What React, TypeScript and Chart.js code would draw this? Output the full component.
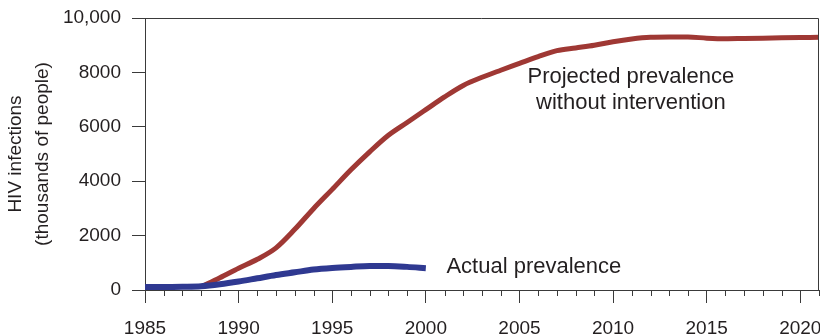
import React, { useEffect, useRef } from 'react';
import { Chart, registerables } from 'chart.js';

Chart.register(...registerables);

// ---- Data ----
const actualYears = [1985, 1986, 1987, 1988, 1989, 1990, 1991, 1992, 1993, 1994, 1995, 1996, 1997, 1998, 1999, 2000];
const actualValues = [110, 110, 120, 140, 210, 310, 430, 550, 650, 750, 810, 850, 880, 880, 850, 800];

const projectedYears = [1988, 1989, 1990, 1991, 1992, 1993, 1994, 1995, 1996, 1997, 1998, 1999, 2000, 2001, 2002, 2003, 2004, 2005, 2006, 2007, 2008, 2009, 2010, 2011, 2012, 2013, 2014, 2015, 2016, 2017, 2018, 2019, 2020, 2021];
const projectedValues = [120, 450, 800, 1130, 1550, 2230, 2990, 3700, 4420, 5080, 5690, 6160, 6630, 7100, 7520, 7820, 8080, 8330, 8580, 8800, 8900, 9000, 9130, 9230, 9290, 9300, 9300, 9260, 9240, 9250, 9260, 9270, 9280, 9290];

const yTickValues = [0, 2000, 4000, 6000, 8000, 10000];
const yTickLabels = ['0', '2000', '4000', '6000', '8000', '10,000'];
const xMajorTicks = [1985, 1990, 1995, 2000, 2005, 2010, 2015, 2020];

const yTitle = ['HIV infections', '(thousands of people)'];
const projectedLabel = ['Projected prevalence', 'without intervention'];
const actualLabel = 'Actual prevalence';

// ---- Styles ----
const FONT = '"Liberation Sans", Arial, Helvetica, sans-serif';
const AXIS_COLOR = '#3a3a3a';
const TEXT_COLOR = '#231f20';
const RED = '#9f3834';
const BLUE = '#2f3991';

const extrasPlugin = {
  id: 'extras',
  afterDraw(chart: any) {
    const { ctx, chartArea, scales } = chart;
    const { left, top, right, bottom } = chartArea;
    const x = scales.x;
    const y = scales.y;
    ctx.save();
    // top and right frame
    ctx.strokeStyle = AXIS_COLOR;
    ctx.lineWidth = 1;
    ctx.beginPath();
    ctx.moveTo(left, Math.round(top) + 0.5);
    ctx.lineTo(Math.round(right) - 0.5, Math.round(top) + 0.5);
    ctx.lineTo(Math.round(right) - 0.5, bottom);
    ctx.stroke();
    // minor ticks every year
    ctx.beginPath();
    for (let yr = Math.ceil(x.min); yr <= x.max; yr++) {
      if (xMajorTicks.includes(yr)) continue;
      const px = Math.round(x.getPixelForValue(yr)) + 0.5;
      ctx.moveTo(px, bottom);
      ctx.lineTo(px, bottom + 6);
    }
    ctx.stroke();
    // annotations
    ctx.fillStyle = TEXT_COLOR;
    ctx.font = `22px ${FONT}`;
    ctx.textBaseline = 'middle';
    ctx.textAlign = 'center';
    ctx.fillText(projectedLabel[0], x.getPixelForValue(2010.95), y.getPixelForValue(7820));
    ctx.fillText(projectedLabel[1], x.getPixelForValue(2010.95), y.getPixelForValue(6860));
    ctx.textAlign = 'left';
    ctx.fillText(actualLabel, x.getPixelForValue(2001.1), y.getPixelForValue(860));
    ctx.restore();
  },
};

export default function App() {
  const ref = useRef<HTMLCanvasElement | null>(null);

  useEffect(() => {
    if (!ref.current) return;
    const chart = new Chart(ref.current, {
      type: 'line',
      data: {
        datasets: [
          {
            label: 'Actual prevalence',
            data: actualYears.map((yr, i) => ({ x: yr, y: actualValues[i] })),
            borderColor: BLUE,
            borderWidth: 6,
            pointRadius: 0,
            cubicInterpolationMode: 'monotone',
            borderCapStyle: 'butt',
            fill: false,
          },
          {
            label: 'Projected prevalence without intervention',
            data: projectedYears.map((yr, i) => ({ x: yr, y: projectedValues[i] })),
            borderColor: RED,
            borderWidth: 5,
            pointRadius: 0,
            cubicInterpolationMode: 'monotone',
            fill: false,
          },
        ],
      },
      options: {
        animation: false,
        responsive: false,
        layout: { padding: { left: 0, right: 1, top: 18, bottom: 0 } },
        plugins: {
          legend: { display: false },
          tooltip: { enabled: false },
        },
        scales: {
          x: {
            type: 'linear',
            min: 1985,
            max: 2021,
            afterFit: (s: any) => {
              s.height = 45;
              s.paddingLeft = 0;
              s.paddingRight = 0;
            },
            ticks: {
              stepSize: 1,
              autoSkip: false,
              maxRotation: 0,
              padding: 14,
              color: TEXT_COLOR,
              font: { family: FONT, size: 19 },
              callback: (v: any) => (xMajorTicks.includes(Number(v)) ? String(v) : ''),
            },
            grid: {
              drawOnChartArea: false,
              drawTicks: true,
              tickLength: 13,
              tickColor: (c: any) => (c.tick && xMajorTicks.includes(c.tick.value) ? AXIS_COLOR : 'rgba(0,0,0,0)'),
            },
            border: { display: true, color: AXIS_COLOR, width: 1 },
          },
          y: {
            type: 'linear',
            min: 0,
            max: 10000,
            afterFit: (s: any) => {
              s.width = 145;
              s.paddingTop = 0;
              s.paddingBottom = 0;
            },
            afterBuildTicks: (s: any) => { s.ticks = yTickValues.map((v) => ({ value: v })); },
            ticks: {
              padding: 11,
              color: TEXT_COLOR,
              font: { family: FONT, size: 19 },
              callback: (v: any) => yTickLabels[yTickValues.indexOf(Number(v))] ?? '',
            },
            grid: {
              drawOnChartArea: false,
              drawTicks: true,
              tickLength: 13,
              tickColor: AXIS_COLOR,
            },
            border: { display: true, color: AXIS_COLOR, width: 1 },
            title: {
              display: true,
              text: yTitle,
              color: TEXT_COLOR,
              font: { family: FONT, size: 19, lineHeight: 1.42 },
              padding: { top: 2, bottom: 0 },
            },
          },
        },
      },
      plugins: [extrasPlugin],
    } as any);
    return () => chart.destroy();
  }, []);

  return (
    <div style={{ position: 'absolute', left: 0, top: 0, width: 820, height: 335, background: '#fff' }}>
      <canvas ref={ref} width={820} height={335} />
    </div>
  );
}
